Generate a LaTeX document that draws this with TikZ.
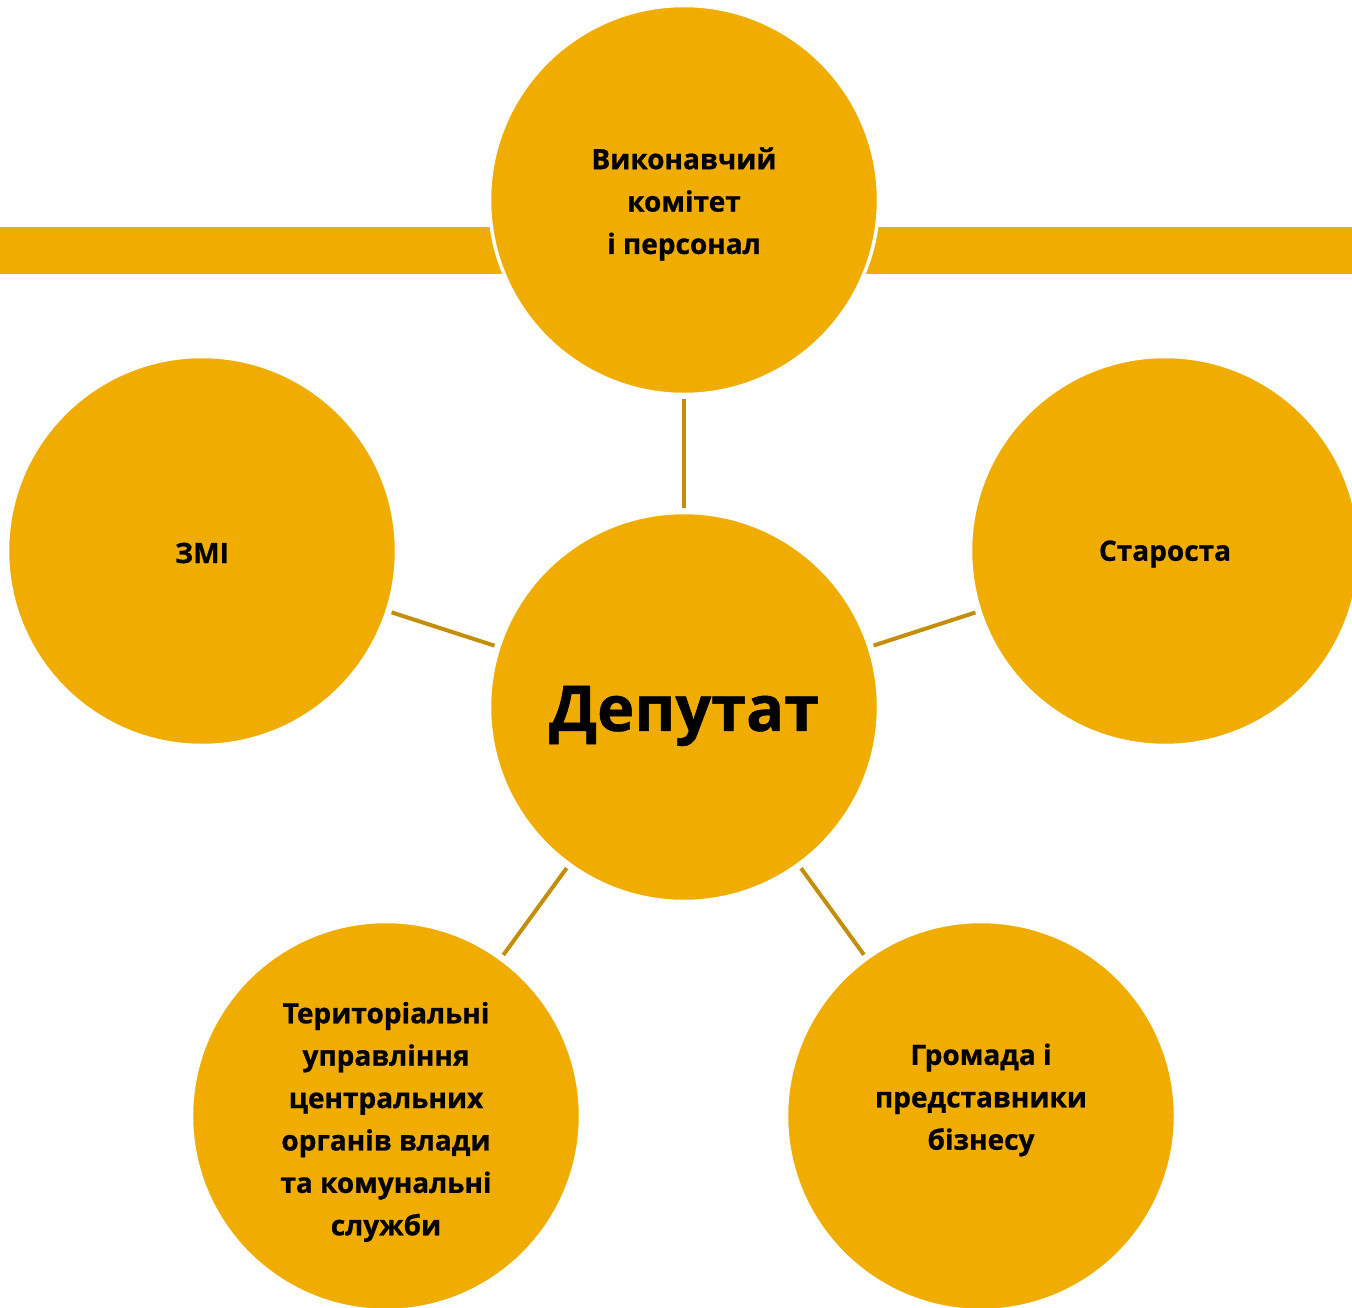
\documentclass[tikz,border=0pt]{standalone}
\usepackage{fontspec}
\setmainfont{Open Sans}[BoldFeatures={FakeBold=0.8}]
\definecolor{gold}{HTML}{F0AD00}
\definecolor{linkc}{HTML}{C58E0A}
\begin{document}
\begin{tikzpicture}[x=1pt,y=-1pt,
  bubble/.style={circle,fill=gold,draw=white,line width=3.5pt,minimum size=389pt,inner sep=0pt},
  lbl/.style={align=center,font=\fontsize{28}{42.4}\selectfont\bfseries,text=black,inner sep=0pt},
  big/.style={font=\fontsize{63}{80}\selectfont\bfseries,text=black,inner sep=0pt},
  conn/.style={draw=linkc,line width=4pt,shorten <=3pt,shorten >=3pt}]
\useasboundingbox (0,0) rectangle (1352,1308);
\fill[gold] (0,227) rectangle (1352,274);
\node[bubble] (top) at (684,200) {};
\node[bubble] (ctr) at (684,707) {};
\node[bubble] (lft) at (202,551) {};
\node[bubble] (rgt) at (1165,551) {};
\node[bubble] (bl) at (386,1116) {};
\node[bubble] (br) at (981,1116) {};
\draw[conn] (ctr) -- (top);
\draw[conn] (ctr) -- (lft);
\draw[conn] (ctr) -- (rgt);
\draw[conn] (ctr) -- (bl);
\draw[conn] (ctr) -- (br);
\node[lbl] (ttop) at (684,204) {Виконавчий\\комітет\\і персонал};
\node[big] (tctr) at (684,716) {Депутат};
\node[lbl] (tlft) at (202,553) {ЗМІ};
\node[lbl] (trgt) at (1165,554) {Староста};
\node[lbl] (tbl) at (386,1122) {Територіальні\\управління\\центральних\\органів влади\\та комунальні\\служби};
\node[lbl] (tbr) at (981,1100) {Громада і\\представники\\бізнесу};
\end{tikzpicture}
\end{document}
